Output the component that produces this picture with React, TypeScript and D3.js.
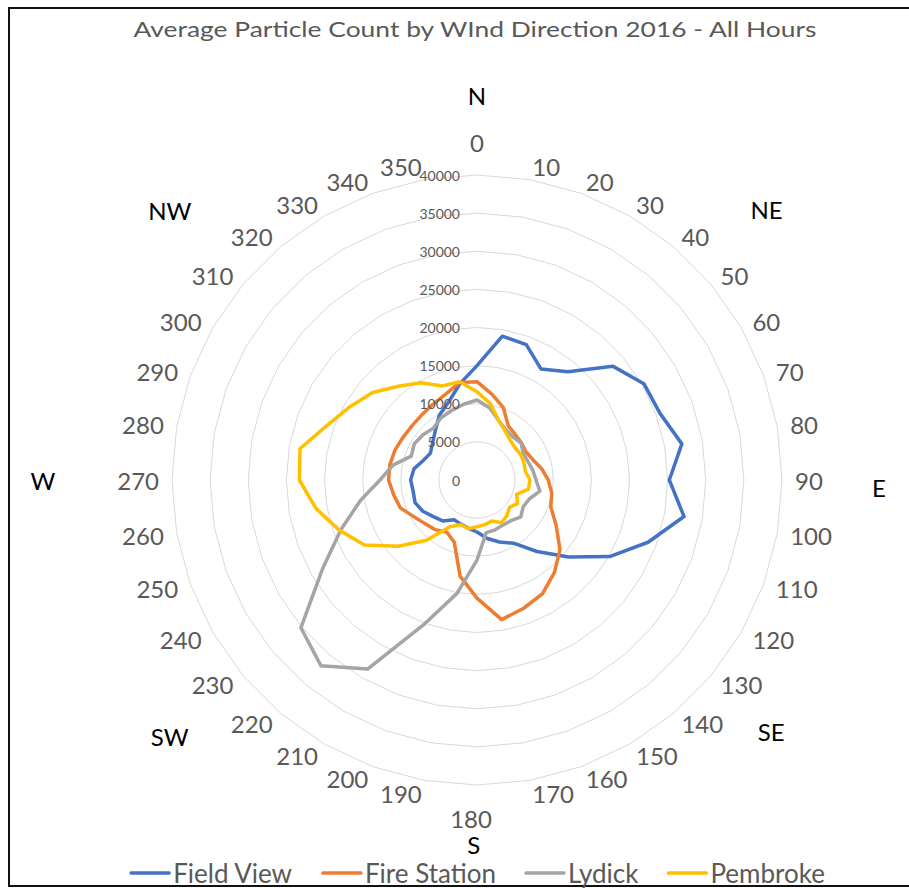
import React from "react";
import * as d3 from "d3";

const directions = [0, 10, 20, 30, 40, 50, 60, 70, 80, 90, 100, 110, 120, 130, 140, 150, 160, 170, 180, 190, 200, 210, 220, 230, 240, 250, 260, 270, 280, 290, 300, 310, 320, 330, 340, 350];

const fieldView = [15000, 19150, 18900, 16800, 18550, 23230, 25270, 25540, 27280, 25220, 27570, 23870, 20090, 15690, 12240, 9570, 8660, 7790, 6820, 6430, 6160, 6030, 7000, 7470, 8200, 8650, 8500, 8700, 8400, 7500, 7050, 7600, 8490, 9840, 10890, 12840];
const fireStation = [12900, 11400, 10100, 8200, 7800, 7600, 7400, 7800, 8600, 9350, 9950, 10300, 12000, 14200, 15800, 17200, 17900, 18600, 15500, 12800, 8700, 7900, 8500, 8900, 9600, 10700, 11100, 11600, 11600, 11450, 11200, 11100, 11200, 11500, 12000, 13000];
const lydick = [10490, 9600, 8300, 7600, 7350, 7550, 7000, 7100, 7430, 7740, 8370, 7290, 7000, 7500, 6950, 6820, 6950, 7000, 10500, 15100, 20070, 28620, 31820, 30150, 23420, 18980, 15530, 12720, 11190, 9170, 9500, 9230, 8880, 9430, 9700, 10090];
const pembroke = [11580, 10160, 8290, 7400, 6800, 6530, 6640, 6550, 6450, 6950, 6850, 5530, 6150, 5570, 6100, 6470, 5730, 5950, 6130, 6500, 6200, 7080, 10300, 13500, 17060, 19220, 21450, 23300, 23580, 20920, 19230, 17860, 16040, 14720, 13130, 13090];

const seriesNames = ["Field View", "Fire Station", "Lydick", "Pembroke"];
const seriesValues = [fieldView, fireStation, lydick, pembroke];
const seriesColors = ["#4472C4", "#ED7D31", "#A5A5A5", "#FFC000"];

const valueTicks = [0, 5000, 10000, 15000, 20000, 25000, 30000, 35000, 40000];

const compassNames = ["N", "NE", "E", "SE", "S", "SW", "W", "NW"];
const compassAngles = [0, 47, 91, 130.5, 180.5, 230.2, 270, 311.3];
const compassDistances = [385, 396, 402, 387, 365, 400, 434, 409];

const titleText = "Average Particle Count by WInd Direction 2016 - All Hours";

const FONT = "Lato, 'Open Sans', 'DejaVu Sans', sans-serif";

function measure(text: string, size: number): number {
  if (typeof document === "undefined") return text.length * size * 0.5;
  const c = document.createElement("canvas");
  const ctx = c.getContext("2d");
  if (!ctx) return text.length * size * 0.5;
  ctx.font = `${size}px Lato`;
  return ctx.measureText(text).width;
}

export default function App() {
  const W = 909;
  const H = 888;
  const cx = 477;
  const cy = 480;
  const R = 305;
  const labelR = 318;

  const rScale = d3.scaleLinear().domain([0, 40000]).range([0, R]);
  const toRad = (d: number) => (d * Math.PI) / 180;

  const ringPath = (v: number) =>
    d3
      .lineRadial<number>()
      .angle((d) => toRad(d))
      .radius(() => rScale(v))
      .curve(d3.curveLinearClosed)(directions) || "";

  const seriesPath = (vals: number[]) =>
    d3
      .lineRadial<number>()
      .angle((_d, i) => toRad(directions[i]))
      .radius((d) => rScale(d))
      .curve(d3.curveLinearClosed)(vals) || "";

  // legend layout
  const legendFont = 26;
  const markerW = 38;
  const markerGap = 4;
  const itemGap = 30;
  const widths = seriesNames.map((n) => measure(n, legendFont));
  const totalW =
    widths.reduce((a, b) => a + b, 0) +
    seriesNames.length * (markerW + markerGap) +
    (seriesNames.length - 1) * itemGap;
  let lx = 478 - totalW / 2;
  const legendItems = seriesNames.map((n, i) => {
    const item = { name: n, color: seriesColors[i], x: lx, w: widths[i] };
    lx += markerW + markerGap + widths[i] + itemGap;
    return item;
  });
  const legendY = 873;

  return (
    <svg
      width={W}
      height={H}
      viewBox={`0 0 ${W} ${H}`}
      style={{ position: "absolute", left: 0, top: 0, display: "block", background: "#fff" }}
      fontFamily={FONT}
    >
      <rect x={0} y={0} width={W} height={H} fill="#fff" />
      <rect x={9} y={8} width={912} height={878} fill="none" stroke="#111" strokeWidth={2} />

      <text
        x={475}
        y={28}
        textAnchor="middle"
        dominantBaseline="central"
        fontSize={22}
        fill="#595959"
        textLength={683}
        lengthAdjust="spacingAndGlyphs"
      >
        {titleText}
      </text>

      <g transform={`translate(${cx},${cy})`}>
        {valueTicks
          .filter((v) => v > 0)
          .map((v) => (
            <path key={v} d={ringPath(v)} fill="none" stroke="#D9D9D9" strokeWidth={1} />
          ))}

        {seriesValues.map((vals, i) => (
          <path
            key={seriesNames[i]}
            d={seriesPath(vals)}
            fill="none"
            stroke={seriesColors[i]}
            strokeWidth={3.5}
            strokeLinejoin="round"
          />
        ))}

        {valueTicks.map((v) => (
          <text
            key={"t" + v}
            x={-17}
            y={-rScale(v)}
            textAnchor="end"
            dominantBaseline="central"
            fontSize={14}
            fill="#595959"
          >
            {String(v)}
          </text>
        ))}

        {directions.map((d) => {
          const a = toRad(d);
          let x = labelR * Math.sin(a);
          let y = -labelR * Math.cos(a);
          let anchor: "start" | "end" | "middle" = "start";
          if (d === 0) {
            anchor = "middle";
            y -= 20;
          } else if (d === 180) {
            anchor = "middle";
            y += 20;
            x -= 6;
          } else if (d > 180) {
            anchor = "end";
          }
          return (
            <text
              key={"d" + d}
              x={x}
              y={y}
              textAnchor={anchor}
              dominantBaseline="central"
              fontSize={24}
              fill="#595959"
            >
              {String(d)}
            </text>
          );
        })}

        {compassNames.map((n, i) => {
          const a = toRad(compassAngles[i]);
          return (
            <text
              key={n}
              x={compassDistances[i] * Math.sin(a)}
              y={-compassDistances[i] * Math.cos(a)}
              textAnchor="middle"
              dominantBaseline="central"
              fontSize={24}
              fill="#000"
            >
              {n}
            </text>
          );
        })}
      </g>

      {legendItems.map((it) => (
        <g key={it.name}>
          <line
            x1={it.x}
            x2={it.x + markerW}
            y1={legendY}
            y2={legendY}
            stroke={it.color}
            strokeWidth={3.5}
            strokeLinecap="round"
          />
          <text
            x={it.x + markerW + markerGap}
            y={legendY}
            dominantBaseline="central"
            fontSize={legendFont}
            fill="#595959"
          >
            {it.name}
          </text>
        </g>
      ))}
    </svg>
  );
}
